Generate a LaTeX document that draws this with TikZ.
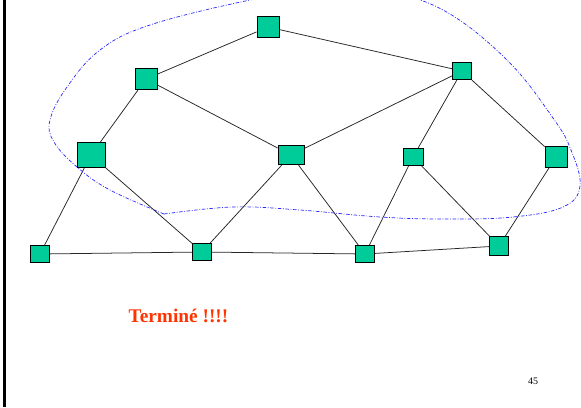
\documentclass[tikz,border=0pt]{standalone}
\usepackage{fontspec}
\setmainfont{Liberation Serif}
\usepackage{tikz}
\definecolor{nodegreen}{RGB}{0,204,153}
\definecolor{alertred}{RGB}{255,51,0}
\definecolor{regionblue}{RGB}{40,40,255}

\begin{document}
\begin{tikzpicture}[
  x=0.03cm, y=-0.03cm,
  sq/.style={draw=black, line width=0.7pt, fill=nodegreen, inner sep=0pt},
  small/.style={sq, minimum width=0.57cm, minimum height=0.52cm},
  edge/.style={draw=black!85, line width=0.65pt},
  region/.style={draw=regionblue, line width=0.6pt,
                 dash pattern=on 3pt off 1.4pt on 0.7pt off 1.4pt},
]
  \useasboundingbox (0,0) rectangle (581,407);
  \clip (0,0) rectangle (581,407);

  % --- slide border ------------------------------------------------
  \draw[line width=2.2pt] (4.5,0) -- (4.5,407);

  % --- graph nodes -------------------------------------------------
  \node[sq, minimum width=0.66cm, minimum height=0.64cm] (a) at (268,27) {};
  \node[sq, minimum width=0.66cm, minimum height=0.64cm] (b) at (146,79) {};
  \node[small] (c) at (462,71) {};
  \node[sq, minimum width=0.84cm, minimum height=0.74cm] (d) at (91,155) {};
  \node[sq, minimum width=0.78cm, minimum height=0.58cm] (e) at (291,155) {};
  \node[small, minimum width=0.60cm] (f) at (413,157) {};
  \node[sq, minimum width=0.66cm, minimum height=0.63cm] (g) at (556,157) {};
  \node[small] (h) at (40,254) {};
  \node[small] (i) at (202,252) {};
  \node[small] (j) at (365,254) {};
  \node[small, minimum height=0.55cm] (k) at (499,246) {};

  % --- edges -------------------------------------------------------
  \foreach \u/\v in {a/b, a/c, b/d, b/e, c/e, c/f, c/g, d/h, d/i,
                     e/i, e/j, f/j, f/k, g/k, h/i, i/j, j/k}
    \draw[edge] (\u) -- (\v);

  % --- visited region ----------------------------------------------
  \draw[region] plot[smooth, tension=0.65] coordinates {
    (164,214) (233,207) (300,210) (380,217) (447,219) (513,217)
    (563,207) (580,186) (571,150) (553,118) (507,60) (443,10)
    (380,-9) (320,-11) (250,0) (150,25) (100,50) (67,87)
    (50,120) (54,142) (77,167) (110,190) (164,214)};

  % --- captions ----------------------------------------------------
  \node[anchor=base, font=\fontsize{16.5}{19}\selectfont\bfseries,
        text=alertred, inner sep=0pt] (done) at (178.5,322) {Terminé !!!!};
  \node[font=\fontsize{8.5}{10}\selectfont, inner sep=0pt] (page) at (533,381) {45};
\end{tikzpicture}
\end{document}
